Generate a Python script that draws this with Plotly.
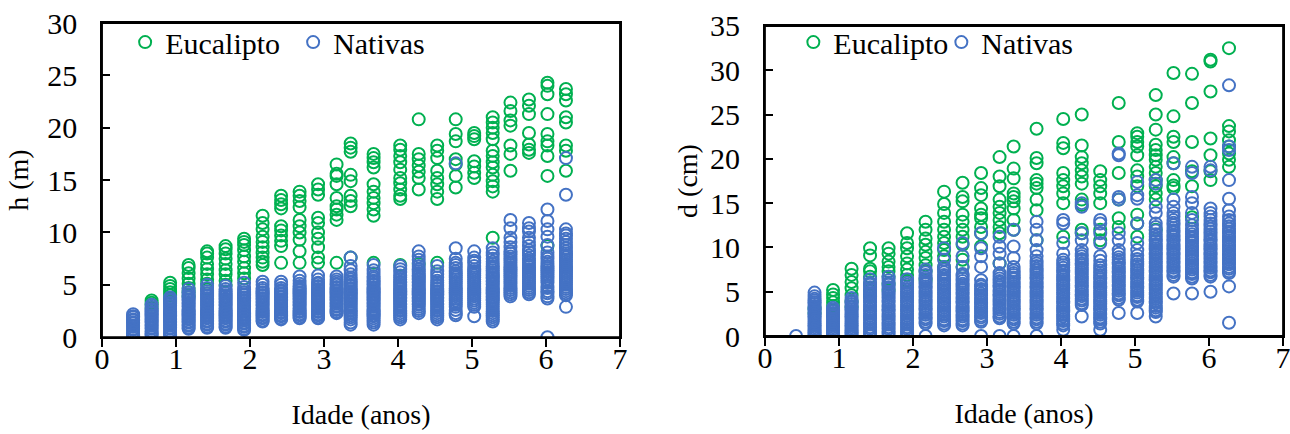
import plotly.graph_objects as go

# Ages (years) of the measurement campaigns
AGES = [0.42, 0.67, 0.92, 1.17, 1.42, 1.67, 1.92, 2.17, 2.42, 2.67, 2.92, 3.17,
        3.36, 3.67, 4.03, 4.28, 4.53, 4.78, 5.03, 5.28, 5.52, 5.77, 6.02, 6.27]

# Height h (m), Eucalipto, one list per age
EUC_H = [
    [],
    [3.5, 3.3, 3.1, 2.8],
    [5.2, 4.9, 4.6, 4.3, 4.0, 3.7, 3.4],
    [6.9, 6.6, 6.1, 5.6, 5.1, 4.7, 4.3, 3.9],
    [8.2, 8.0, 7.6, 7.0, 6.5, 6.0, 5.5, 5.1, 4.6],
    [8.7, 8.4, 8.0, 7.5, 7.0, 6.4, 6.0, 5.4, 5.0],
    [9.4, 9.1, 8.8, 8.3, 7.7, 7.2, 6.6, 6.1, 5.6],
    [11.6, 10.9, 10.3, 9.6, 9.1, 8.6, 8.1, 7.6, 7.2, 6.9],
    [13.5, 13.1, 12.7, 12.3, 10.6, 10.2, 9.7, 9.2, 8.7, 7.1],
    [13.9, 13.5, 13.0, 12.4, 11.2, 10.6, 10.0, 9.3, 8.2, 7.1],
    [14.6, 14.1, 13.6, 11.4, 10.9, 10.0, 9.4, 8.6, 7.6, 7.1],
    [16.5, 15.6, 15.4, 14.6, 13.3, 12.5, 12.2, 11.7, 11.2, 7.1],
    [18.5, 18.1, 17.7, 15.5, 14.9, 13.5, 13.0, 12.5, 7.6],
    [17.5, 17.1, 16.7, 16.2, 14.6, 13.9, 13.3, 12.8, 12.2, 11.6, 7.1],
    [18.3, 17.9, 17.3, 16.7, 16.0, 15.2, 14.7, 14.1, 13.5, 13.2, 6.9],
    [20.8, 17.5, 17.0, 16.4, 15.8, 15.2, 14.1, 7.0],
    [18.3, 17.8, 17.1, 15.9, 15.2, 14.6, 13.9, 13.2, 7.1],
    [20.8, 19.4, 18.7, 17.0, 16.5, 15.4, 14.3],
    [19.5, 19.2, 18.9, 16.8, 16.3, 15.7, 15.2],
    [21.0, 20.5, 20.0, 19.5, 18.9, 17.8, 17.3, 16.7, 16.2, 15.5, 14.9, 14.4, 13.9, 9.5],
    [22.4, 21.6, 20.7, 20.2, 18.3, 17.5, 15.9],
    [22.7, 22.1, 21.3, 19.5, 18.4, 17.9, 17.6],
    [24.3, 24.0, 23.2, 21.3, 19.4, 18.7, 18.3, 17.3, 15.4, 8.7],
    [23.7, 23.2, 22.6, 21.0, 20.5, 18.3, 17.8, 15.9],
]

# Height h (m), Nativas
NAT_H = [
    [0.1, 0.2, 0.4, 0.5, 0.7, 0.8, 1.0, 1.1, 1.3, 1.4, 1.6, 1.7, 1.9, 2.0, 2.2],
    [0.2, 0.3, 0.5, 0.6, 0.8, 0.9, 1.1, 1.2, 1.4, 1.5, 1.7, 1.8, 2.0, 2.1, 2.3, 2.4, 2.6, 2.7,
     2.9, 3.1],
    [0.2, 0.3, 0.5, 0.6, 0.8, 0.9, 1.1, 1.2, 1.4, 1.5, 1.7, 1.8, 2.0, 2.1, 2.3, 2.4, 2.6, 2.7,
     2.9, 3.0, 3.2, 3.3, 3.5, 3.6, 3.8],
    [0.8, 0.9, 1.1, 1.2, 1.4, 1.5, 1.7, 1.8, 2.0, 2.1, 2.3, 2.4, 2.6, 2.7, 2.9, 3.0, 3.2, 3.3,
     3.5, 3.6, 3.8, 3.9, 4.1, 4.3, 4.6],
    [0.9, 1.0, 1.2, 1.3, 1.5, 1.6, 1.8, 1.9, 2.1, 2.2, 2.4, 2.5, 2.7, 2.8, 3.0, 3.1, 3.3, 3.4,
     3.6, 3.7, 3.9, 4.0, 4.2, 4.4, 4.7, 5.0],
    [0.9, 1.0, 1.2, 1.3, 1.5, 1.6, 1.8, 1.9, 2.1, 2.2, 2.4, 2.5, 2.7, 2.8, 3.0, 3.1, 3.3, 3.4,
     3.6, 3.7, 3.9, 4.0, 4.2, 4.4, 4.6, 4.9],
    [0.7, 0.8, 1.0, 1.1, 1.3, 1.4, 1.6, 1.7, 1.9, 2.0, 2.2, 2.3, 2.5, 2.6, 2.8, 2.9, 3.1, 3.2,
     3.4, 3.5, 3.7, 3.8, 4.0, 4.1, 4.3, 4.5, 4.8, 5.2],
    [1.5, 1.6, 1.8, 1.9, 2.1, 2.2, 2.4, 2.5, 2.7, 2.8, 3.0, 3.1, 3.3, 3.4, 3.6, 3.7, 3.9, 4.0,
     4.2, 4.3, 4.5, 4.7, 5.0, 5.3],
    [1.7, 1.8, 2.0, 2.1, 2.3, 2.4, 2.6, 2.7, 2.9, 3.0, 3.2, 3.3, 3.5, 3.6, 3.8, 3.9, 4.1, 4.2,
     4.4, 4.5, 4.7, 5.0, 5.3],
    [1.8, 1.9, 2.1, 2.2, 2.4, 2.5, 2.7, 2.8, 3.0, 3.1, 3.3, 3.4, 3.6, 3.7, 3.9, 4.0, 4.2, 4.3,
     4.5, 4.6, 4.8, 4.9, 5.1, 5.4, 5.8],
    [1.8, 1.9, 2.1, 2.2, 2.4, 2.5, 2.7, 2.8, 3.0, 3.1, 3.3, 3.4, 3.6, 3.7, 3.9, 4.0, 4.2, 4.3,
     4.5, 4.6, 4.8, 4.9, 5.1, 5.2, 5.5, 5.9],
    [2.3, 2.4, 2.6, 2.7, 2.9, 3.0, 3.2, 3.3, 3.5, 3.6, 3.8, 3.9, 4.1, 4.2, 4.4, 4.5, 4.7, 4.8,
     5.0, 5.1, 5.3, 5.5, 5.8],
    [1.2, 1.4, 1.7, 1.9, 2.1, 2.3, 2.5, 2.6, 2.8, 2.9, 3.1, 3.2, 3.4, 3.5, 3.7, 3.8, 4.0, 4.1,
     4.3, 4.4, 4.6, 4.7, 4.9, 5.0, 5.2, 5.3, 5.5, 5.7, 6.0, 6.4, 6.8, 7.6],
    [1.2, 1.4, 1.6, 1.8, 2.0, 2.1, 2.3, 2.4, 2.6, 2.7, 2.9, 3.0, 3.2, 3.3, 3.5, 3.6, 3.8, 3.9,
     4.1, 4.2, 4.4, 4.5, 4.7, 4.8, 5.0, 5.1, 5.3, 5.4, 5.6, 5.8, 6.1, 6.4, 6.9],
    [1.7, 1.9, 2.1, 2.3, 2.5, 2.6, 2.8, 2.9, 3.1, 3.2, 3.4, 3.5, 3.7, 3.8, 4.0, 4.1, 4.3, 4.4,
     4.6, 4.7, 4.9, 5.0, 5.2, 5.3, 5.5, 5.7, 5.9, 6.2, 6.5, 6.8],
    [2.3, 2.5, 2.7, 2.9, 3.1, 3.2, 3.4, 3.5, 3.7, 3.8, 4.0, 4.1, 4.3, 4.4, 4.6, 4.7, 4.9, 5.0,
     5.2, 5.3, 5.5, 5.6, 5.8, 5.9, 6.1, 6.3, 6.5, 6.8, 7.1, 7.4, 7.7, 8.2],
    [1.7, 1.9, 2.1, 2.3, 2.5, 2.6, 2.8, 2.9, 3.1, 3.2, 3.4, 3.5, 3.7, 3.8, 4.0, 4.1, 4.3, 4.4,
     4.6, 4.7, 4.9, 5.0, 5.2, 5.4, 5.7, 6.0, 6.3, 6.8],
    [2.1, 2.3, 2.6, 2.9, 3.1, 3.3, 3.5, 3.7, 3.9, 4.1, 4.3, 4.5, 4.7, 4.9, 5.1, 5.3, 5.5, 5.7,
     5.9, 6.1, 6.3, 6.6, 6.9, 7.1, 7.5, 8.5, 16.6],
    [2.0, 2.9, 3.1, 3.3, 3.5, 3.7, 3.9, 4.1, 4.3, 4.5, 4.7, 4.9, 5.1, 5.3, 5.5, 5.7, 5.9, 6.1,
     6.3, 6.5, 6.8, 7.1, 7.3, 7.6, 8.2],
    [1.5, 1.7, 1.9, 2.1, 2.3, 2.5, 2.7, 2.9, 3.1, 3.3, 3.5, 3.6, 3.8, 3.9, 4.1, 4.2, 4.4, 4.5,
     4.7, 4.8, 5.0, 5.1, 5.3, 5.4, 5.6, 5.7, 5.9, 6.0, 6.2, 6.4, 6.6, 6.8, 7.0, 7.2, 7.5, 7.8,
     8.1, 8.5],
    [3.9, 4.1, 4.3, 4.5, 4.7, 4.9, 5.1, 5.3, 5.5, 5.7, 5.9, 6.1, 6.3, 6.5, 6.7, 6.9, 7.1, 7.3,
     7.5, 7.7, 8.0, 8.2, 8.6, 9.1, 9.5, 10.4, 11.2],
    [4.1, 4.3, 4.5, 4.7, 4.9, 5.1, 5.3, 5.5, 5.7, 5.9, 6.1, 6.3, 6.5, 6.7, 6.9, 7.1, 7.3, 7.5,
     7.8, 8.1, 8.3, 8.7, 9.1, 9.5, 10.1, 10.4, 10.9],
    [0.0, 3.7, 3.9, 4.2, 4.4, 4.7, 4.9, 5.2, 5.4, 5.6, 5.8, 6.0, 6.2, 6.4, 6.6, 6.8, 7.0, 7.2,
     7.5, 7.7, 8.1, 8.8, 9.6, 10.3, 11.1, 12.2],
    [2.9, 4.0, 4.2, 4.4, 4.6, 4.8, 5.0, 5.2, 5.4, 5.6, 5.8, 6.0, 6.2, 6.4, 6.6, 6.8, 7.0, 7.2,
     7.4, 7.6, 7.8, 8.0, 8.2, 8.5, 8.8, 9.1, 9.4, 9.7, 9.9, 10.3, 13.6, 17.1],
]

# Diameter d (cm), Eucalipto
EUC_D = [
    [],
    [0.0, 2.6, 3.1],
    [5.2, 4.7, 4.3, 3.8, 3.4, 2.9, 2.4],
    [7.6, 6.9, 6.1, 5.4, 4.6, 3.9, 3.3],
    [9.9, 9.1, 7.6, 7.3, 6.7, 5.9, 5.2, 4.5],
    [9.9, 9.3, 8.4, 7.8, 7.3, 6.7, 5.9, 5.2],
    [11.6, 10.5, 9.9, 9.0, 8.2, 7.5, 6.9, 6.2],
    [12.9, 12.0, 11.0, 10.3, 9.5, 8.8, 8.0, 7.3, 6.3],
    [16.3, 14.9, 13.9, 12.9, 12.0, 11.2, 10.5, 9.7, 9.0, 7.8],
    [17.3, 15.7, 15.2, 13.7, 12.9, 12.0, 11.2, 10.3, 8.6, 7.8],
    [18.4, 16.7, 15.9, 14.4, 13.7, 13.3, 12.3, 11.6, 10.1],
    [20.2, 18.0, 16.9, 15.4, 14.6, 13.9, 13.1, 12.3, 11.6, 8.2],
    [21.4, 18.9, 17.8, 16.1, 15.7, 15.2, 14.4, 13.1, 12.0],
    [23.4, 20.1, 19.5, 17.6, 17.2, 16.7, 15.4, 14.2, 10.8],
    [24.5, 21.8, 21.2, 18.4, 17.6, 16.9, 16.1, 15.0, 11.2],
    [25.0, 21.5, 20.2, 19.5, 18.7, 18.0, 17.2, 15.4, 14.8, 12.0, 11.6],
    [18.6, 17.6, 16.9, 16.1, 15.0, 12.0, 10.8],
    [26.3, 21.9, 18.4, 15.4, 13.3, 12.3],
    [22.9, 22.5, 21.9, 21.4, 20.4, 18.7, 18.0, 16.9, 13.7, 12.7, 11.2],
    [27.2, 25.0, 23.3, 21.6, 21.0, 20.4, 19.9, 19.1, 18.4, 17.6, 16.9, 16.1, 15.4, 12.0],
    [29.7, 24.8, 22.5, 21.9, 20.2, 19.5, 17.6, 17.0, 16.7],
    [29.6, 26.3, 21.9, 18.6, 16.9, 13.4],
    [31.2, 31.0, 27.6, 22.3, 20.4, 18.6, 17.6],
    [32.5, 23.7, 23.1, 22.1, 21.4, 20.6, 19.9, 19.1],
]

# Diameter d (cm), Nativas
NAT_D = [
    [0.0],
    [0.0, 0.2, 0.4, 0.6, 0.8, 1.0, 1.2, 1.4, 1.6, 1.8, 2.0, 2.2, 2.4, 2.6, 2.8, 3.0, 3.2, 3.4,
     3.6, 3.8, 4.0, 4.2, 4.5, 4.9],
    [0.0, 0.2, 0.4, 0.6, 0.8, 1.0, 1.2, 1.4, 1.6, 1.8, 2.0, 2.2, 2.4, 2.6, 2.8, 3.0, 3.2],
    [0.0, 0.2, 0.4, 0.6, 0.8, 1.0, 1.2, 1.4, 1.6, 1.8, 2.0, 2.2, 2.4, 2.6, 2.8, 3.0, 3.2, 3.4,
     3.6, 3.8, 4.0, 4.3],
    [0.0, 0.3, 0.5, 0.8, 1.0, 1.3, 1.5, 1.8, 2.0, 2.3, 2.5, 2.8, 3.0, 3.3, 3.5, 3.8, 4.0, 4.3,
     4.5, 4.8, 5.0, 5.3, 5.5, 5.8, 6.0, 6.4],
    [0.0, 0.3, 0.5, 0.8, 1.0, 1.3, 1.5, 1.8, 2.0, 2.3, 2.5, 2.8, 3.0, 3.3, 3.5, 3.8, 4.0, 4.3,
     4.5, 4.8, 5.0, 5.3, 5.5, 5.8, 6.0, 6.3, 6.7],
    [0.0, 0.3, 0.5, 0.8, 1.0, 1.3, 1.5, 1.8, 2.0, 2.3, 2.5, 2.8, 3.0, 3.3, 3.5, 3.8, 4.0, 4.3,
     4.5, 4.8, 5.0, 5.3, 5.5, 5.8, 6.0, 6.4],
    [0.0, 1.4, 1.6, 1.9, 2.1, 2.4, 2.6, 2.9, 3.1, 3.4, 3.6, 3.9, 4.1, 4.4, 4.6, 4.9, 5.1, 5.4,
     5.6, 5.9, 6.1, 6.4, 6.6, 6.9, 7.2, 7.5],
    [1.2, 1.4, 1.7, 1.9, 2.2, 2.4, 2.7, 2.9, 3.2, 3.4, 3.7, 3.9, 4.2, 4.4, 4.7, 4.9, 5.2, 5.4,
     5.7, 5.9, 6.2, 6.4, 6.7, 6.9, 7.2, 7.5, 7.8, 8.6, 9.9],
    [1.2, 1.4, 1.7, 1.9, 2.2, 2.4, 2.7, 2.9, 3.2, 3.4, 3.7, 3.9, 4.2, 4.4, 4.7, 4.9, 5.2, 5.4,
     5.7, 5.9, 6.2, 6.5, 6.8, 7.0, 7.8, 9.0, 10.5],
    [0.0, 1.6, 1.8, 2.1, 2.3, 2.6, 2.8, 3.1, 3.3, 3.6, 3.8, 4.1, 4.3, 4.6, 4.8, 5.1, 5.3, 5.6,
     5.8, 6.3, 7.8, 9.0, 9.9, 11.6],
    [0.0, 2.0, 2.2, 2.5, 2.7, 3.0, 3.2, 3.5, 3.7, 4.0, 4.2, 4.5, 4.7, 5.0, 5.2, 5.5, 5.7, 6.0,
     6.2, 6.5, 6.8, 7.1, 8.2, 9.3, 10.1, 11.2],
    [0.0, 1.4, 1.6, 1.9, 2.1, 2.4, 2.6, 2.9, 3.1, 3.4, 3.6, 3.9, 4.1, 4.4, 4.6, 4.9, 5.1, 5.4,
     5.6, 5.9, 6.1, 6.4, 6.6, 6.9, 7.1, 7.4, 7.8, 8.8, 10.1, 12.0],
    [0.0, 1.4, 1.6, 1.9, 2.1, 2.4, 2.6, 2.9, 3.1, 3.4, 3.6, 3.9, 4.1, 4.4, 4.6, 4.9, 5.1, 5.4,
     5.6, 5.9, 6.1, 6.4, 6.6, 6.9, 7.1, 7.4, 7.6, 7.9, 8.2, 8.5, 9.0, 9.7, 10.8, 12.0, 12.9],
    [0.7, 1.2, 1.4, 1.7, 1.9, 2.2, 2.4, 2.7, 2.9, 3.2, 3.4, 3.7, 3.9, 4.2, 4.4, 4.7, 4.9, 5.2,
     5.4, 5.7, 5.9, 6.2, 6.4, 6.7, 6.9, 7.2, 7.4, 7.7, 8.0, 8.3, 8.6, 9.3, 10.5, 12.7, 13.1],
    [2.2, 3.5, 3.7, 4.0, 4.2, 4.5, 4.7, 5.0, 5.2, 5.5, 5.7, 6.0, 6.2, 6.5, 6.7, 7.0, 7.2, 7.5,
     7.7, 8.0, 8.2, 8.5, 8.7, 9.0, 9.3, 9.7, 10.8, 11.6, 14.6, 15.0],
    [0.7, 1.4, 1.6, 1.9, 2.1, 2.4, 2.6, 2.9, 3.1, 3.4, 3.6, 3.9, 4.1, 4.4, 4.6, 4.9, 5.1, 5.4,
     5.6, 5.9, 6.1, 6.4, 6.6, 6.9, 7.1, 7.4, 7.7, 8.0, 8.5, 9.0, 10.5, 11.6, 12.7, 13.1],
    [2.6, 4.1, 4.3, 4.6, 4.8, 5.1, 5.3, 5.6, 5.8, 6.1, 6.3, 6.6, 6.8, 7.1, 7.3, 7.6, 7.8, 8.1,
     8.3, 8.6, 8.9, 9.3, 9.7, 10.8, 11.6, 15.4, 15.7, 20.4, 20.6],
    [2.6, 3.9, 4.1, 4.4, 4.6, 4.9, 5.1, 5.4, 5.6, 5.9, 6.1, 6.4, 6.6, 6.9, 7.1, 7.4, 7.6, 7.9,
     8.1, 8.4, 8.7, 9.1, 9.7, 10.5, 12.7, 15.5, 15.9, 17.4],
    [2.2, 2.7, 2.9, 3.2, 3.4, 3.7, 3.9, 4.2, 4.4, 4.7, 4.9, 5.2, 5.4, 5.7, 5.9, 6.2, 6.4, 6.7,
     6.9, 7.2, 7.4, 7.7, 7.9, 8.2, 8.4, 8.7, 8.9, 9.2, 9.4, 9.7, 9.9, 10.2, 10.4, 10.7, 10.9,
     11.2, 11.5, 11.9, 12.3, 12.7, 13.9, 14.6, 17.2, 17.6],
    [4.8, 6.7, 6.9, 7.2, 7.4, 7.7, 7.9, 8.2, 8.4, 8.7, 8.9, 9.2, 9.4, 9.7, 9.9, 10.2, 10.4, 10.7,
     10.9, 11.2, 11.4, 11.7, 11.9, 12.2, 12.5, 12.8, 13.1, 13.5, 13.9, 14.6, 15.4, 19.5],
    [4.8, 6.5, 6.7, 7.0, 7.2, 7.5, 7.7, 8.0, 8.2, 8.5, 8.7, 9.0, 9.2, 9.5, 9.7, 10.0, 10.2, 10.5,
     10.7, 11.0, 11.2, 11.5, 11.8, 12.1, 12.5, 13.1, 13.9, 15.0, 15.7, 18.4, 19.1],
    [5.0, 6.7, 6.9, 7.2, 7.4, 7.7, 7.9, 8.2, 8.4, 8.7, 8.9, 9.2, 9.4, 9.7, 9.9, 10.2, 10.4, 10.7,
     10.9, 11.2, 11.5, 11.8, 12.1, 12.4, 12.7, 13.1, 13.5, 13.9, 14.4, 18.7, 19.1],
    [1.5, 5.6, 7.1, 7.3, 7.6, 7.8, 8.1, 8.3, 8.6, 8.8, 9.1, 9.3, 9.6, 9.8, 10.1, 10.3, 10.6,
     10.8, 11.1, 11.3, 11.6, 11.8, 12.1, 12.4, 12.7, 13.1, 13.5, 14.2, 15.5, 17.6, 21.0, 21.4,
     28.3],
]

GREEN = "#00B050"
BLUE = "#4472C4"
FONT = "Liberation Serif, Times New Roman, serif"


def flatten(groups):
    xs, ys = [], []
    for age, vals in zip(AGES, groups):
        for v in vals:
            xs.append(age)
            ys.append(v)
    return xs, ys


def marker(color):
    return dict(symbol="circle-open", size=12, color=color, line=dict(width=2, color=color))


fig = go.Figure()
for name, groups, color, xa, ya, leg in [
    ("Eucalipto", EUC_H, GREEN, "x", "y", "legend"),
    ("Nativas", NAT_H, BLUE, "x", "y", "legend"),
    ("Eucalipto", EUC_D, GREEN, "x2", "y2", "legend2"),
    ("Nativas", NAT_D, BLUE, "x2", "y2", "legend2"),
]:
    xs, ys = flatten(groups)
    fig.add_trace(go.Scatter(x=xs, y=ys, mode="markers", name=name, marker=marker(color),
                             xaxis=xa, yaxis=ya, legend=leg))

axis_common = dict(showgrid=False, zeroline=False, showline=True, mirror=True,
                   automargin=False, ticklabeloverflow="allow",
                   linecolor="black", linewidth=1.8, tickcolor="black", tickwidth=1.5,
                   ticklen=8, tickfont=dict(family=FONT, size=30, color="black"))

TITLE_FONT = dict(family=FONT, size=28, color="black")
LEG_FONT = dict(family=FONT, size=30, color="black")

fig.update_layout(
    width=1290, height=434,
    margin=dict(l=0, r=0, t=0, b=0, autoexpand=False),
    paper_bgcolor="white", plot_bgcolor="white",
    font=dict(family=FONT, size=28, color="black"),
    xaxis=dict(domain=[0.0791, 0.4806], range=[0, 7], dtick=1, ticks="outside",
               ticklabelstandoff=-14,
               title=dict(text="Idade (anos)", font=TITLE_FONT, standoff=30),
               anchor="y", **axis_common),
    yaxis=dict(domain=[0.2230, 0.9470], range=[0, 30], dtick=5, ticks="inside",
               ticklabelstandoff=17,
               title=dict(text="h (m)", font=TITLE_FONT, standoff=10),
               anchor="x", **axis_common),
    xaxis2=dict(domain=[0.5930, 0.9946], range=[0, 7], dtick=1, ticks="outside",
                ticklabelstandoff=-14,
                title=dict(text="Idade (anos)", font=TITLE_FONT, standoff=30),
                anchor="y2", **axis_common),
    yaxis2=dict(domain=[0.2258, 0.9401], range=[0, 35], dtick=5, ticks="inside",
                ticklabelstandoff=17,
                title=dict(text="d (cm)", font=TITLE_FONT, standoff=4),
                anchor="x2", **axis_common),
    legend=dict(orientation="h", x=0.0970, y=0.903, xanchor="left", yanchor="middle",
                bgcolor="rgba(0,0,0,0)", font=LEG_FONT, entrywidth=123,
                itemsizing="trace"),
    legend2=dict(orientation="h", x=0.6150, y=0.903, xanchor="left", yanchor="middle",
                 bgcolor="rgba(0,0,0,0)", font=LEG_FONT, entrywidth=103,
                 itemsizing="trace"),
    shapes=[
        dict(type="rect", xref="x domain", yref="y domain", x0=0, x1=1, y0=0, y1=1,
             line=dict(color="black", width=1.8), fillcolor="rgba(0,0,0,0)", layer="above"),
        dict(type="rect", xref="x2 domain", yref="y2 domain", x0=0, x1=1, y0=0, y1=1,
             line=dict(color="black", width=1.8), fillcolor="rgba(0,0,0,0)", layer="above"),
    ],
)

# Remove the page's default body margin so the figure fills the window exactly
fig.write_html("out.html",
               config={"displayModeBar": False},
               post_script="document.body.style.margin='0';"
                           "document.body.style.overflow='hidden';")
